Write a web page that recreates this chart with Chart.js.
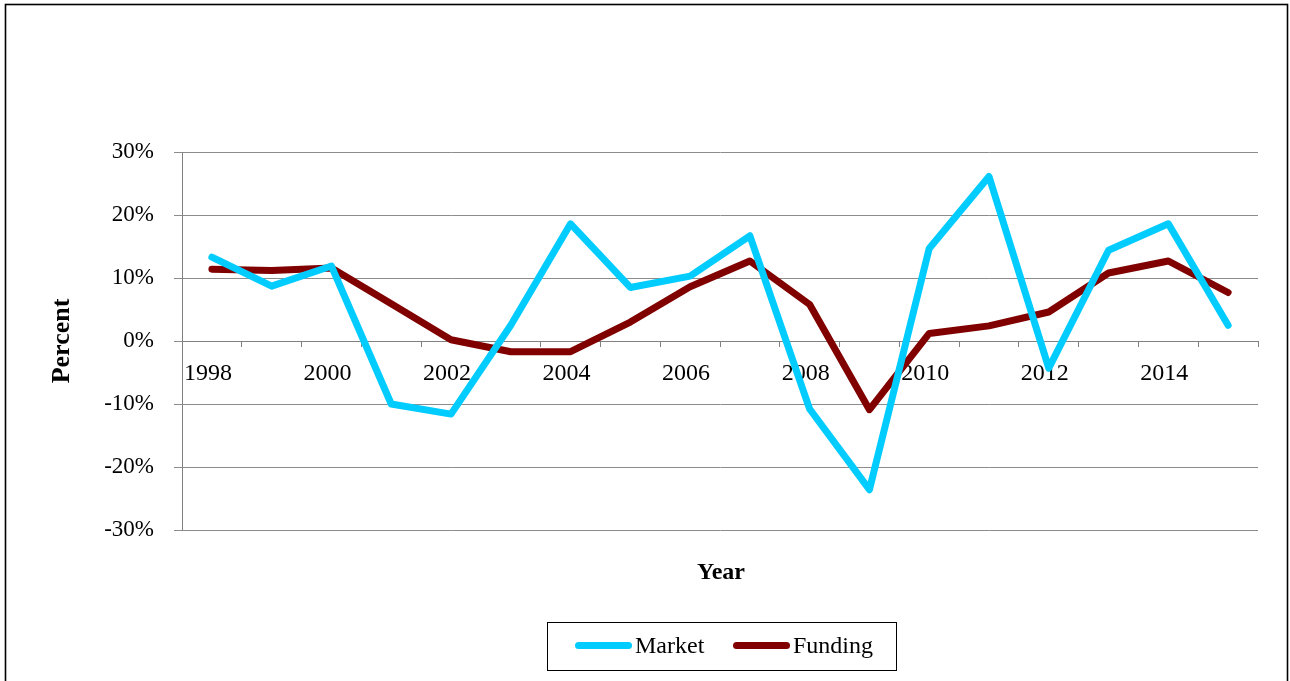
<!DOCTYPE html>
<html>
<head>
<meta charset="utf-8">
<script src="https://cdn.jsdelivr.net/npm/chart.js@4/dist/chart.umd.min.js"></script>
<style>
  html, body { margin: 0; padding: 0; background: #fff; }
  #wrap { width: 1290px; height: 681px; }
</style>
</head>
<body>
<div id="wrap"><canvas id="c" width="1290" height="681"></canvas></div>
<script>
const years = ['1998','1999','2000','2001','2002','2003','2004','2005','2006','2007','2008','2009','2010','2011','2012','2013','2014','2015'];
const market = [13.3, 8.7, 11.9, -10.0, -11.6, 2.5, 18.6, 8.5, 10.3, 16.7, -10.8, -23.6, 14.7, 26.1, -4.3, 14.4, 18.6, 2.5];
const funding = [11.4, 11.2, 11.6, 5.9, 0.2, -1.7, -1.7, 3.0, 8.6, 12.7, 5.8, -10.9, 1.2, 2.4, 4.6, 10.8, 12.7, 7.7];
const yMin = -30, yMax = 30, yStep = 10;
const seriesNames = ['Market', 'Funding'];
const seriesColors = ['#00CCFF', '#800000'];
const xTitle = 'Year';
const yTitle = 'Percent';

const SERIF = '"Liberation Serif", "Times New Roman", serif';

const framePlugin = {
  id: 'frame',
  beforeDraw(chart) {
    const ctx = chart.ctx;
    ctx.save();
    ctx.fillStyle = '#fff';
    ctx.fillRect(0, 0, chart.width, chart.height);
    ctx.restore();
  },
  afterDraw(chart) {
    const ctx = chart.ctx;
    const ca = chart.chartArea;
    ctx.save();
    // outer frame
    ctx.strokeStyle = '#000';
    ctx.lineWidth = 1.6;
    ctx.strokeRect(5.5, 4.5, 1282, chart.height + 10);
    // x axis title
    ctx.fillStyle = '#000';
    ctx.font = 'bold 24px ' + SERIF;
    ctx.textAlign = 'center';
    ctx.textBaseline = 'middle';
    ctx.fillText(xTitle, (ca.left + ca.right) / 2 + 1, ca.bottom + 43);
    // legend
    const cx = (ca.left + ca.right) / 2 + 1.5;
    const bx = cx - 174.5, by = ca.bottom + 91.5, bw = 349, bh = 48;
    ctx.strokeStyle = '#000';
    ctx.lineWidth = 1;
    ctx.strokeRect(Math.round(bx) + 0.5, Math.round(by) + 0.5, bw, bh);
    ctx.font = '24px ' + SERIF;
    ctx.textAlign = 'left';
    ctx.textBaseline = 'middle';
    const ly = by + bh / 2;
    const starts = [bx + 28, bx + 186];
    chart.data.datasets.forEach((ds, i) => {
      const x0 = starts[i];
      ctx.strokeStyle = ds.borderColor;
      ctx.lineWidth = 7;
      ctx.lineCap = 'round';
      ctx.beginPath();
      ctx.moveTo(x0 + 3.5, ly);
      ctx.lineTo(x0 + 53.5, ly);
      ctx.stroke();
      ctx.fillStyle = '#000';
      ctx.fillText(ds.label, x0 + 60, ly + 1);
    });
    ctx.restore();
  }
};

new Chart(document.getElementById('c'), {
  type: 'line',
  data: {
    labels: years,
    datasets: [
      { label: seriesNames[0], data: market, borderColor: seriesColors[0], backgroundColor: seriesColors[0],
        borderWidth: 7, pointRadius: 0, pointHoverRadius: 0, tension: 0, fill: false,
        borderCapStyle: 'round', borderJoinStyle: 'round' },
      { label: seriesNames[1], data: funding, borderColor: seriesColors[1], backgroundColor: seriesColors[1],
        borderWidth: 7, pointRadius: 0, pointHoverRadius: 0, tension: 0, fill: false,
        borderCapStyle: 'round', borderJoinStyle: 'round' }
    ]
  },
  options: {
    responsive: false,
    animation: false,
    events: [],
    layout: { padding: { left: 47, right: 32, top: 152, bottom: 151 } },
    plugins: { legend: { display: false }, tooltip: { enabled: false }, title: { display: false } },
    scales: {
      x: {
        type: 'category',
        position: { y: 0 },
        offset: true,
        grid: { display: true, drawOnChartArea: false, drawTicks: true, tickLength: 5, offset: true, color: '#808080', lineWidth: 1 },
        border: { display: true, color: '#808080', width: 1 },
        ticks: {
          autoSkip: false, maxRotation: 0, minRotation: 0, padding: 13, labelOffset: -4, color: '#000',
          font: { family: SERIF, size: 24 },
          callback: function(v, i) { return i % 2 === 0 ? years[i] : ''; }
        }
      },
      y: {
        position: 'left',
        min: yMin, max: yMax,
        afterFit: function(scale) { scale.width = 135; },
        grid: { color: '#8c8c8c', lineWidth: 1, drawTicks: true, tickLength: 8 },
        border: { display: true, color: '#808080', width: 1 },
        ticks: {
          stepSize: yStep, padding: 20, color: '#000',
          font: { family: SERIF, size: 23 },
          callback: function(v) { return v + '%'; }
        },
        title: {
          display: true, text: yTitle, color: '#000',
          font: { family: SERIF, size: 26, weight: 'bold' },
          padding: { top: 0, bottom: 0 }
        }
      }
    }
  },
  plugins: [framePlugin]
});
</script>
</body>
</html>
